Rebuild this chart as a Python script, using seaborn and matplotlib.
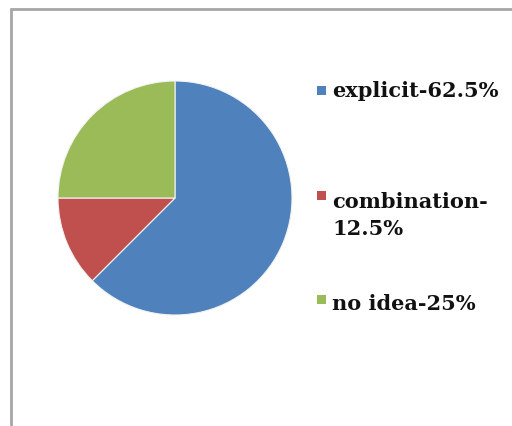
import matplotlib
matplotlib.use("Agg")
import matplotlib.pyplot as plt
from matplotlib.lines import Line2D
from matplotlib.patches import Rectangle
import seaborn as sns

sns.set_theme(style="white")

categories = ["explicit", "combination", "no idea"]
values = [62.5, 12.5, 25.0]
legend_labels = ["explicit-62.5%", "combination-\n12.5%", "no idea-25%"]
colors = ["#4F81BD", "#C0504D", "#9BBB59"]

W, H = 512, 427
fig = plt.figure(figsize=(W / 100, H / 100), dpi=100)
fig.patch.set_facecolor("white")

# frame (top and left edges visible)
fig.add_artist(Line2D([11 / W, 1.0], [1 - 10 / H, 1 - 10 / H], transform=fig.transFigure,
                      color="#A6A6A6", lw=2))
fig.add_artist(Line2D([11 / W, 11 / W], [0, 1 - 10 / H], transform=fig.transFigure,
                      color="#A6A6A6", lw=2))

cx, cy, r = 175, 199, 117
ax = fig.add_axes([(cx - r) / W, 1 - (cy + r) / H, 2 * r / W, 2 * r / H])
ax.pie(values, colors=colors, startangle=90, counterclock=False,
       wedgeprops=dict(edgecolor="#F2F2F2", linewidth=0.8))
ax.set_xlim(-1, 1)
ax.set_ylim(-1, 1)
ax.set_aspect("auto")
ax.axis("off")

font = dict(family=["DejaVu Serif"], weight="bold", size=15)
rows = [91, 196, 300]
last_baselines = [97, 235, 310]
for lab, col, y, b in zip(legend_labels, colors, rows, last_baselines):
    fig.add_artist(Rectangle((317 / W, 1 - (y + 5) / H), 9 / W, 9 / H,
                             transform=fig.transFigure, facecolor=col, edgecolor="none"))
    fig.text(332 / W, 1 - b / H, lab, ha="left", va="baseline",
             linespacing=1.46, color="#111111", **font)

fig.savefig("out.png", dpi=100, facecolor="white")
